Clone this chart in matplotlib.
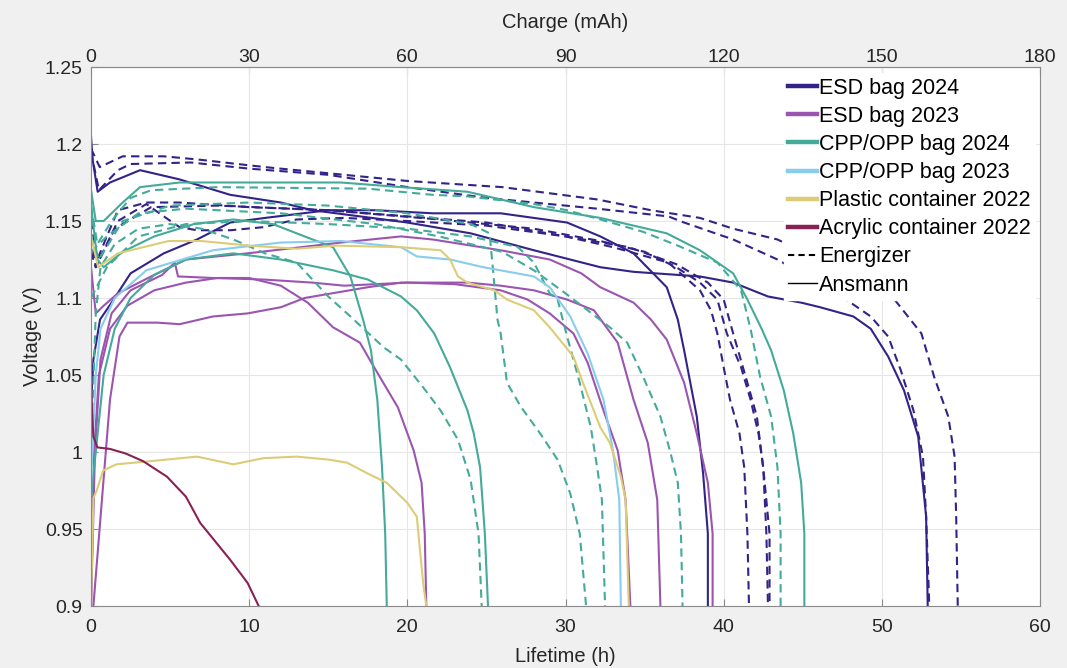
import matplotlib
matplotlib.use("Agg")
import matplotlib.pyplot as plt
from matplotlib.lines import Line2D

# ---- data (lifetime in h, voltage in V) ----
# ESD bag 2024, Ansmann (solid)
esd24_ans1_t = [0, 0.1, 0.42, 1.2, 3.1, 5.6, 8.8, 12, 14, 20, 24, 28, 32.2, 34.3, 38.5, 40.6, 42.8, 44.9, 46.1, 48.2, 49.3, 50.4, 51.4, 52.3, 52.8, 52.9]
esd24_ans1_v = [1.205, 1.19, 1.169, 1.175, 1.183, 1.177, 1.167, 1.162, 1.157, 1.149, 1.142, 1.131, 1.120, 1.117, 1.114, 1.110, 1.101, 1.097, 1.094, 1.088, 1.080, 1.062, 1.040, 1.010, 0.958, 0.9]
esd24_ans2_t = [0, 0.15, 0.57, 1.3, 2.5, 4.6, 6.7, 8.8, 11, 15, 18, 21.6, 25.9, 30.1, 32.2, 34.3, 36.4, 37.1, 37.5, 38.3, 38.7, 39.0, 39.0]
esd24_ans2_v = [1.03, 1.06, 1.086, 1.097, 1.116, 1.129, 1.138, 1.149, 1.152, 1.157, 1.157, 1.155, 1.155, 1.149, 1.140, 1.129, 1.107, 1.086, 1.066, 1.023, 0.986, 0.947, 0.9]
# ESD bag 2024, Energizer (dashed)
esd24_en1_t = [0, 0.55, 2, 4.6, 6.7, 11, 15, 20, 26, 32, 35.4, 38.5, 40.6, 43.4, 47, 50.8, 52.5, 53.3, 54.2, 54.6, 54.7, 54.8]
esd24_en1_v = [1.197, 1.185, 1.192, 1.192, 1.19, 1.185, 1.181, 1.176, 1.172, 1.164, 1.157, 1.152, 1.145, 1.138, 1.12, 1.099, 1.077, 1.049, 1.023, 0.997, 0.958, 0.9]
esd24_en2_t = [0, 0.5, 1.7, 2.5, 6.3, 10, 15, 20, 25, 32, 36.5, 37.5, 40.6, 43.4, 47.6, 49.3, 50.4, 51.2, 52.0, 52.6, 52.8, 53.0]
esd24_en2_v = [1.195, 1.17, 1.183, 1.187, 1.188, 1.184, 1.18, 1.172, 1.165, 1.158, 1.153, 1.149, 1.138, 1.125, 1.10, 1.088, 1.075, 1.053, 1.027, 0.997, 0.958, 0.9]
esd24_en3_t = [0, 0.4, 1, 1.7, 3.5, 5.6, 10, 15, 20, 25, 30, 33, 36.5, 38.5, 39.2, 39.6, 40, 40.4, 41, 41.3, 41.5, 41.6]
esd24_en3_v = [1.15, 1.125, 1.14, 1.157, 1.162, 1.162, 1.159, 1.157, 1.153, 1.149, 1.14, 1.133, 1.123, 1.105, 1.092, 1.077, 1.055, 1.034, 1.012, 0.99, 0.947, 0.9]
esd24_en4_t = [0, 0.3, 1.5, 3.8, 8, 15, 22, 28, 32.2, 35, 37, 38.5, 39.6, 40.2, 41.1, 41.7, 42.2, 42.5, 42.7, 42.8]
esd24_en4_v = [1.14, 1.12, 1.145, 1.159, 1.16, 1.157, 1.151, 1.145, 1.137, 1.13, 1.12, 1.11, 1.099, 1.077, 1.055, 1.034, 1.012, 0.99, 0.947, 0.9]
esd24_en5_t = [0, 0.3, 1.7, 3.5, 4.6, 5.6, 6.7, 8.8, 10.9, 13, 16, 20, 25, 30, 34, 37, 39, 40, 40.6, 41.5, 42.1, 42.5, 42.9, 42.9]
esd24_en5_v = [1.13, 1.12, 1.15, 1.161, 1.153, 1.146, 1.144, 1.144, 1.146, 1.151, 1.152, 1.15, 1.147, 1.14, 1.133, 1.122, 1.11, 1.099, 1.077, 1.045, 1.023, 0.99, 0.947, 0.9]

# ESD bag 2023 (solid)
esd23_1_t = [0, 0.3, 0.8, 1.7, 3.8, 6, 9.9, 15.8, 19.6, 21.6, 25.9, 29, 31, 32.2, 34.3, 35.4, 36.4, 37.5, 38.3, 39, 39.3, 39.3]
esd23_1_v = [1.12, 1.09, 1.095, 1.103, 1.114, 1.125, 1.129, 1.136, 1.14, 1.138, 1.131, 1.125, 1.116, 1.107, 1.097, 1.086, 1.073, 1.045, 1.012, 0.98, 0.947, 0.9]
esd23_2_t = [0.15, 1.2, 1.8, 2.3, 4.2, 5.6, 7.7, 9.9, 12, 13.5, 17.5, 19.6, 23.8, 25.9, 28, 30.1, 31.8, 33.3, 34.3, 35.2, 35.8, 36.0]
esd23_2_v = [0.9, 1.034, 1.075, 1.084, 1.084, 1.083, 1.088, 1.09, 1.094, 1.1, 1.107, 1.11, 1.11, 1.108, 1.105, 1.099, 1.092, 1.071, 1.034, 1.006, 0.969, 0.9]
esd23_3_t = [0, 0.25, 0.6, 1.3, 2.5, 4.5, 5.3, 5.5, 7.7, 10.9, 14, 16, 18, 20, 23, 25.9, 27.6, 29, 30.5, 31.4, 32.4, 33.3, 33.8, 34.1]
esd23_3_v = [0.9, 1.0, 1.06, 1.09, 1.105, 1.115, 1.123, 1.114, 1.113, 1.112, 1.11, 1.108, 1.109, 1.11, 1.109, 1.105, 1.099, 1.09, 1.077, 1.058, 1.027, 1.001, 0.969, 0.9]
esd23_4_t = [0, 0.2, 0.5, 1.2, 2.3, 4, 6, 8, 10, 12, 13.7, 15.3, 17, 17.9, 19.4, 20.4, 20.9, 21.1, 21.2]
esd23_4_v = [0.9, 1.0, 1.05, 1.08, 1.095, 1.105, 1.11, 1.113, 1.113, 1.108, 1.097, 1.081, 1.071, 1.055, 1.029, 1.001, 0.98, 0.947, 0.9]

# CPP/OPP bag 2024, Ansmann (solid)
cpp24_ans1_t = [0, 0.4, 0.8, 2, 4, 6.5, 9, 11.5, 13.5, 15.3, 16.4, 17.2, 17.7, 18.1, 18.4, 18.6, 18.7]
cpp24_ans1_v = [1.16, 1.125, 1.12, 1.13, 1.14, 1.148, 1.151, 1.148, 1.14, 1.133, 1.114, 1.086, 1.066, 1.034, 0.99, 0.947, 0.9]
cpp24_ans2_t = [0, 0.3, 0.8, 1.5, 2.5, 4, 6, 9, 12, 15.3, 17.5, 19.6, 20.6, 21.7, 22.7, 23.8, 24.2, 24.6, 24.9, 25.1]
cpp24_ans2_v = [0.97, 1.0, 1.05, 1.08, 1.10, 1.115, 1.125, 1.129, 1.125, 1.118, 1.112, 1.101, 1.092, 1.077, 1.055, 1.027, 1.012, 0.99, 0.947, 0.9]
cpp24_ans3_t = [0, 0.3, 0.8, 2, 3.1, 5.6, 15.8, 19.6, 23.8, 25.9, 28, 32.2, 36.4, 38.5, 40.6, 41.5, 42.4, 43.0, 43.8, 44.4, 44.9, 45.1, 45.1]
cpp24_ans3_v = [1.17, 1.15, 1.15, 1.162, 1.172, 1.175, 1.175, 1.172, 1.169, 1.164, 1.159, 1.152, 1.142, 1.131, 1.116, 1.099, 1.08, 1.066, 1.04, 1.012, 0.98, 0.947, 0.9]
# CPP/OPP bag 2024, Energizer (dashed)
cpp24_en1_t = [0, 0.3, 0.6, 1.5, 3, 5, 7, 9, 11, 13, 15, 16.4, 18.5, 19.6, 21, 22.1, 23.2, 24, 24.5, 24.7]
cpp24_en1_v = [1.0, 1.09, 1.12, 1.135, 1.145, 1.148, 1.145, 1.138, 1.129, 1.123, 1.101, 1.088, 1.068, 1.06, 1.042, 1.027, 1.008, 0.982, 0.947, 0.9]
cpp24_en2_t = [0, 0.5, 2, 5, 10, 15, 20, 24, 25.2, 25.4, 25.7, 25.9, 26.3, 27.2, 28.4, 29.5, 30.3, 30.9, 31.3]
cpp24_en2_v = [1.14, 1.125, 1.15, 1.16, 1.162, 1.16, 1.155, 1.148, 1.142, 1.12, 1.086, 1.077, 1.045, 1.029, 1.012, 0.995, 0.973, 0.947, 0.9]
cpp24_en3_t = [0, 1, 3, 6, 10, 15, 20, 24, 27, 28, 29, 29.5, 30.1, 30.9, 31.6, 32, 32.3, 32.5]
cpp24_en3_v = [1.1, 1.12, 1.14, 1.148, 1.15, 1.148, 1.145, 1.14, 1.133, 1.123, 1.103, 1.099, 1.075, 1.045, 1.016, 0.99, 0.969, 0.9]
cpp24_en4_t = [0, 1, 3, 6, 12, 18, 22, 26, 28, 30, 31.4, 32.8, 33.9, 34.9, 36, 36.6, 37.1, 37.3, 37.4]
cpp24_en4_v = [1.13, 1.14, 1.155, 1.158, 1.155, 1.148, 1.14, 1.13, 1.118, 1.103, 1.092, 1.081, 1.071, 1.049, 1.023, 1.001, 0.98, 0.947, 0.9]
cpp24_en5_t = [0, 0.4, 1.3, 2.5, 3.8, 8, 17.5, 21.6, 23.8, 28, 30.1, 32.2, 34.9, 37.1, 39.6, 41.1, 41.7, 42.3, 43.0, 43.4, 43.6, 43.6]
cpp24_en5_v = [1.16, 1.135, 1.15, 1.165, 1.17, 1.172, 1.171, 1.167, 1.166, 1.161, 1.157, 1.151, 1.143, 1.134, 1.123, 1.105, 1.08, 1.049, 1.023, 0.99, 0.947, 0.9]

# CPP/OPP bag 2023 (solid)
cpp23_1_t = [0, 0.3, 0.6, 1.5, 3.5, 7.7, 12, 15.8, 19.6, 20.6, 22.7, 24.8, 28, 29, 30.3, 31.4, 32.4, 33, 33.4, 33.5]
cpp23_1_v = [0.98, 1.05, 1.08, 1.10, 1.118, 1.131, 1.136, 1.137, 1.133, 1.127, 1.125, 1.12, 1.114, 1.107, 1.088, 1.064, 1.034, 1.001, 0.969, 0.9]

# Plastic container 2022 (solid)
plastic_1_t = [0, 0.45, 1.7, 4.9, 7, 10, 13, 15.5, 19.6, 22.1, 22.7, 23.2, 23.8, 25.5, 26.3, 28, 29, 30.5, 31.1, 32.2, 32.8, 33.5, 33.8, 34.0]
plastic_1_v = [1.14, 1.12, 1.129, 1.137, 1.137, 1.134, 1.132, 1.134, 1.133, 1.131, 1.125, 1.114, 1.11, 1.105, 1.099, 1.092, 1.081, 1.062, 1.045, 1.016, 1.006, 0.984, 0.969, 0.9]
plastic_2_t = [0, 0.15, 0.36, 0.77, 1.6, 3.7, 6.7, 9, 10.9, 13, 15.1, 16.2, 17.5, 18.7, 20, 20.6, 20.8, 21, 21.2]
plastic_2_v = [0.9, 0.97, 0.975, 0.988, 0.992, 0.994, 0.997, 0.992, 0.996, 0.997, 0.995, 0.993, 0.986, 0.98, 0.967, 0.958, 0.936, 0.915, 0.9]

# Acrylic container 2022 (solid)
acrylic_1_t = [0, 0.05, 0.15, 0.4, 1.2, 2.2, 3.3, 4.8, 6, 6.9, 8.8, 9.9, 10.6]
acrylic_1_v = [1.05, 1.03, 1.01, 1.003, 1.002, 0.999, 0.994, 0.984, 0.971, 0.954, 0.93, 0.915, 0.9]

groups = ["ESD bag 2024", "ESD bag 2023", "CPP/OPP bag 2024", "CPP/OPP bag 2023",
          "Plastic container 2022", "Acrylic container 2022"]
colors = ["#332288", "#9B55B0", "#44AA99", "#88CCEE", "#DDCC77", "#882255"]

y_ticks = [0.9, 0.95, 1, 1.05, 1.1, 1.15, 1.2, 1.25]
y_labels = ["0.9", "0.95", "1", "1.05", "1.1", "1.15", "1.2", "1.25"]

MAH_PER_H = 3.0


def main() -> None:
    plt.rcParams["font.family"] = ["Liberation Sans", "DejaVu Sans"]
    text_c = "#262626"
    spine_c = "#8a8a8a"

    fig = plt.figure(figsize=(10.67, 6.68), dpi=100, facecolor="#f0f0f0")
    ax = fig.add_axes([0.0853, 0.0928, 0.8894, 0.8069])

    curves = [
        (esd24_ans1_t, esd24_ans1_v, 0, "-"), (esd24_ans2_t, esd24_ans2_v, 0, "-"),
        (esd24_en1_t, esd24_en1_v, 0, "--"), (esd24_en2_t, esd24_en2_v, 0, "--"),
        (esd24_en3_t, esd24_en3_v, 0, "--"), (esd24_en4_t, esd24_en4_v, 0, "--"),
        (esd24_en5_t, esd24_en5_v, 0, "--"),
        (esd23_1_t, esd23_1_v, 1, "-"), (esd23_2_t, esd23_2_v, 1, "-"),
        (esd23_3_t, esd23_3_v, 1, "-"), (esd23_4_t, esd23_4_v, 1, "-"),
        (cpp24_ans1_t, cpp24_ans1_v, 2, "-"), (cpp24_ans2_t, cpp24_ans2_v, 2, "-"),
        (cpp24_ans3_t, cpp24_ans3_v, 2, "-"),
        (cpp24_en1_t, cpp24_en1_v, 2, "--"), (cpp24_en2_t, cpp24_en2_v, 2, "--"),
        (cpp24_en3_t, cpp24_en3_v, 2, "--"), (cpp24_en4_t, cpp24_en4_v, 2, "--"),
        (cpp24_en5_t, cpp24_en5_v, 2, "--"),
        (cpp23_1_t, cpp23_1_v, 3, "-"),
        (plastic_1_t, plastic_1_v, 4, "-"), (plastic_2_t, plastic_2_v, 4, "-"),
        (acrylic_1_t, acrylic_1_v, 5, "-"),
    ]
    for t, v, g, ls in curves:
        ax.plot(t, v, color=colors[g], linestyle=ls, linewidth=1.5,
                dashes=(4, 2.5) if ls == "--" else (None, None))

    ax.set_xlim(0, 60)
    ax.set_ylim(0.9, 1.25)
    ax.set_xticks(range(0, 61, 10))
    ax.set_yticks(y_ticks)
    ax.set_yticklabels(y_labels)
    ax.grid(True, color="#e6e6e6", linewidth=0.8)
    ax.set_axisbelow(True)
    ax.tick_params(direction="in", length=5, colors=spine_c, labelcolor=text_c,
                   labelsize=14, right=False, pad=6)
    ax.tick_params(axis="x", pad=9)
    for s in ax.spines.values():
        s.set_color(spine_c)
        s.set_linewidth(0.8)
    ax.set_xlabel("Lifetime (h)", fontsize=14.5, color=text_c, labelpad=8)
    ax.set_ylabel("Voltage (V)", fontsize=14.5, color=text_c, labelpad=2)

    top = ax.secondary_xaxis("top", functions=(lambda h: h * MAH_PER_H, lambda q: q / MAH_PER_H))
    top.set_xticks(range(0, 181, 30))
    top.tick_params(direction="in", length=5, colors=spine_c, labelcolor=text_c,
                    labelsize=14, pad=0.5)
    top.spines["top"].set_color(spine_c)
    top.set_xlabel("Charge (mAh)", fontsize=14.5, color=text_c, labelpad=15)

    handles = [Line2D([0], [0], color=c, linewidth=3.2) for c in colors]
    handles.append(Line2D([0], [0], color="black", linewidth=1.5, linestyle="--", dashes=(3, 2)))
    handles.append(Line2D([0], [0], color="black", linewidth=1.0))
    leg = ax.legend(handles, groups + ["Energizer", "Ansmann"], loc="upper right",
                    bbox_to_anchor=(0.995, 0.988), fontsize=15.5, frameon=True,
                    fancybox=False, framealpha=1, edgecolor="white",
                    handlelength=1.35, handletextpad=0.1, labelspacing=0.33,
                    borderpad=0.2, borderaxespad=0)
    for txt in leg.get_texts():
        txt.set_color("black")

    fig.savefig("out.png", dpi=100, facecolor=fig.get_facecolor())
    plt.close(fig)


if __name__ == "__main__":
    main()
